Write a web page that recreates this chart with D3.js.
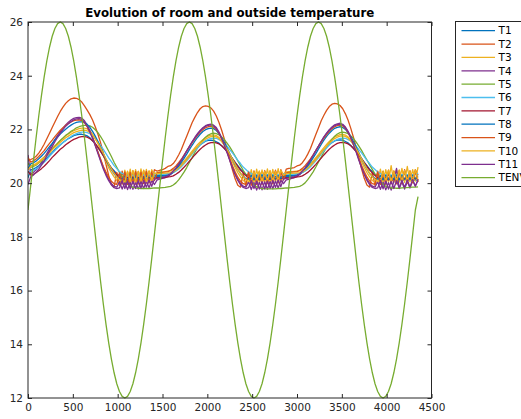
<!DOCTYPE html>
<html>
<head>
<meta charset="utf-8">
<script src="https://cdn.jsdelivr.net/npm/d3@7"></script>
<style>
  body { margin: 0; background: #fff; }
  svg { display: block; font-family: "DejaVu Sans", sans-serif; }
</style>
</head>
<body>
<svg id="chart" width="521" height="419"></svg>
<script>
// Sampling grid: one reading every 30 minutes
const minutes = d3.range(0, 4351, 30);

// Room temperatures (°C)
const T1 = [
  20.20, 20.49, 20.52, 20.58, 20.65, 20.73, 20.82, 20.93, 21.04, 21.14, 21.25, 21.34,
  21.43, 21.51, 21.59, 21.66, 21.71, 21.77, 21.80, 21.82, 21.82, 21.80, 21.76, 21.69,
  21.58, 21.47, 21.32, 21.18, 21.02, 20.86, 20.72, 20.57, 20.46, 20.35, 20.28, 20.24,
  20.22, 20.30, 20.20, 20.31, 20.21, 20.30, 20.22, 20.32, 20.23, 20.30, 20.25, 20.28,
  20.28, 20.28, 20.29, 20.30, 20.31, 20.34, 20.40, 20.47, 20.56, 20.66, 20.77, 20.89,
  21.01, 21.13, 21.24, 21.34, 21.43, 21.50, 21.56, 21.59, 21.60, 21.59, 21.54, 21.49,
  21.39, 21.30, 21.17, 21.05, 20.91, 20.77, 20.65, 20.52, 20.43, 20.33, 20.28, 20.23,
  20.22, 20.30, 20.21, 20.31, 20.20, 20.30, 20.22, 20.31, 20.23, 20.30, 20.24, 20.28,
  20.28, 20.28, 20.29, 20.30, 20.31, 20.34, 20.40, 20.47, 20.56, 20.66, 20.77, 20.89,
  21.01, 21.13, 21.25, 21.35, 21.44, 21.51, 21.57, 21.60, 21.61, 21.60, 21.55, 21.50,
  21.40, 21.30, 21.18, 21.05, 20.91, 20.77, 20.65, 20.52, 20.43, 20.33, 20.28, 20.23,
  20.22, 20.10, 20.20, 20.08, 20.15, 20.10, 20.18, 20.09, 20.14, 20.10, 20.12, 20.10,
  20.12, 20.10
];
const T2 = [
  20.85, 20.88, 20.92, 21.00, 21.12, 21.27, 21.45, 21.65, 21.86, 22.07, 22.28, 22.48,
  22.67, 22.83, 22.97, 23.07, 23.14, 23.17, 23.16, 23.11, 23.02, 22.88, 22.72, 22.55,
  22.35, 22.10, 21.82, 21.50, 21.12, 20.70, 20.28, 19.95, 19.85, 20.40, 19.92, 20.45,
  19.95, 20.42, 19.93, 20.46, 19.96, 20.44, 19.98, 20.47, 20.00, 20.45, 20.05, 20.50,
  20.45, 20.48, 20.50, 20.55, 20.62, 20.65, 20.73, 20.87, 21.05, 21.25, 21.50, 21.75,
  22.00, 22.25, 22.45, 22.63, 22.77, 22.85, 22.88, 22.86, 22.80, 22.68, 22.50, 22.26,
  21.97, 21.64, 21.27, 20.88, 20.50, 20.16, 19.92, 19.85, 20.38, 19.90, 20.44, 19.92,
  20.46, 19.95, 20.43, 19.97, 20.47, 19.98, 20.45, 20.02, 20.48, 20.05, 20.50, 20.20,
  20.52, 20.55, 20.56, 20.58, 20.64, 20.67, 20.76, 20.90, 21.08, 21.29, 21.55, 21.81,
  22.06, 22.32, 22.53, 22.71, 22.85, 22.94, 22.97, 22.95, 22.89, 22.77, 22.58, 22.34,
  22.04, 21.70, 21.32, 20.92, 20.53, 20.18, 19.93, 19.85, 20.40, 19.92, 20.45, 19.95,
  20.43, 19.96, 20.48, 19.98, 20.45, 20.00, 20.47, 20.02, 20.50, 20.05, 20.46, 20.08,
  20.50, 20.30
];
const T3 = [
  20.70, 20.65, 20.68, 20.73, 20.80, 20.89, 20.97, 21.07, 21.18, 21.29, 21.39, 21.49,
  21.59, 21.67, 21.76, 21.83, 21.90, 21.95, 21.99, 22.03, 22.05, 22.05, 22.02, 21.95,
  21.82, 21.66, 21.48, 21.25, 21.03, 20.80, 20.57, 20.39, 20.23, 20.10, 20.03, 20.00,
  20.48, 20.02, 20.52, 20.00, 20.50, 20.03, 20.53, 20.01, 20.51, 20.04, 20.50, 20.30,
  20.40, 20.42, 20.42, 20.43, 20.45, 20.46, 20.50, 20.55, 20.63, 20.72, 20.82, 20.94,
  21.06, 21.19, 21.31, 21.43, 21.53, 21.62, 21.70, 21.75, 21.79, 21.80, 21.77, 21.70,
  21.57, 21.41, 21.22, 21.01, 20.79, 20.58, 20.39, 20.23, 20.10, 20.03, 20.00, 20.50,
  20.02, 20.52, 20.01, 20.49, 20.03, 20.53, 20.02, 20.51, 20.04, 20.54, 20.05, 20.35,
  20.42, 20.43, 20.43, 20.44, 20.45, 20.46, 20.50, 20.55, 20.63, 20.72, 20.83, 20.95,
  21.07, 21.20, 21.32, 21.44, 21.55, 21.64, 21.72, 21.77, 21.81, 21.82, 21.79, 21.72,
  21.59, 21.43, 21.24, 21.02, 20.80, 20.58, 20.39, 20.23, 20.10, 20.03, 20.00, 20.52,
  20.01, 20.50, 20.03, 20.65, 20.02, 20.51, 20.04, 20.55, 20.03, 20.62, 20.05, 20.50,
  20.08, 20.60
];
const T4 = [
  21.05, 20.34, 20.40, 20.50, 20.62, 20.76, 20.92, 21.10, 21.28, 21.45, 21.62, 21.78,
  21.92, 22.05, 22.17, 22.27, 22.35, 22.41, 22.44, 22.45, 22.42, 22.32, 22.16, 21.96,
  21.72, 21.44, 21.15, 20.86, 20.58, 20.34, 20.14, 19.98, 19.88, 19.85, 20.05, 19.78,
  20.03, 19.76, 20.02, 19.77, 20.04, 19.78, 20.06, 19.80, 20.08, 19.83, 20.10, 19.95,
  20.12, 20.15, 20.18, 20.20, 20.24, 20.32, 20.42, 20.54, 20.69, 20.84, 21.01, 21.19,
  21.37, 21.54, 21.70, 21.84, 21.96, 22.06, 22.14, 22.18, 22.20, 22.16, 22.07, 21.90,
  21.69, 21.45, 21.17, 20.88, 20.60, 20.36, 20.15, 19.98, 19.89, 19.85, 20.04, 19.76,
  20.02, 19.74, 20.03, 19.75, 20.05, 19.77, 20.06, 19.79, 20.08, 19.82, 20.10, 19.98,
  20.12, 20.14, 20.18, 20.20, 20.24, 20.32, 20.42, 20.55, 20.69, 20.85, 21.03, 21.21,
  21.38, 21.56, 21.72, 21.86, 21.99, 22.09, 22.17, 22.21, 22.23, 22.19, 22.09, 21.93,
  21.72, 21.47, 21.19, 20.89, 20.61, 20.36, 20.15, 19.99, 19.89, 19.85, 20.05, 19.77,
  20.03, 19.75, 20.02, 19.74, 20.06, 20.55, 19.80, 20.04, 19.78, 20.06, 19.82, 20.08,
  19.90, 20.10
];
const T5 = [
  20.75, 20.59, 20.62, 20.67, 20.75, 20.82, 20.92, 21.03, 21.14, 21.26, 21.37, 21.48,
  21.59, 21.68, 21.78, 21.85, 21.93, 21.99, 22.06, 22.10, 22.13, 22.15, 22.15, 22.13,
  22.08, 21.99, 21.88, 21.73, 21.57, 21.38, 21.19, 20.99, 20.78, 20.59, 20.40, 20.24,
  20.09, 19.98, 19.89, 19.84, 19.82, 19.81, 19.80, 19.80, 19.80, 19.80, 19.81, 19.82,
  19.82, 19.82, 19.83, 19.84, 19.86, 19.88, 19.93, 20.01, 20.12, 20.26, 20.41, 20.58,
  20.77, 20.95, 21.14, 21.31, 21.46, 21.60, 21.71, 21.79, 21.84, 21.86, 21.84, 21.80,
  21.72, 21.62, 21.49, 21.35, 21.18, 21.01, 20.83, 20.65, 20.48, 20.32, 20.17, 20.04,
  19.94, 19.86, 19.82, 19.80, 19.79, 19.79, 19.79, 19.79, 19.79, 19.80, 19.80, 19.81,
  19.82, 19.82, 19.83, 19.84, 19.86, 19.88, 19.93, 20.01, 20.13, 20.27, 20.42, 20.60,
  20.79, 20.97, 21.16, 21.34, 21.49, 21.63, 21.75, 21.83, 21.88, 21.90, 21.88, 21.84,
  21.76, 21.66, 21.53, 21.38, 21.22, 21.04, 20.86, 20.68, 20.51, 20.34, 20.19, 20.06,
  19.96, 19.88, 19.84, 19.82, 19.82, 19.81, 19.81, 19.82, 19.83, 19.83, 19.84, 19.85,
  19.85, 19.86
];
const T6 = [
  20.40, 20.44, 20.47, 20.53, 20.60, 20.69, 20.78, 20.88, 21.00, 21.11, 21.21, 21.32,
  21.42, 21.51, 21.59, 21.67, 21.74, 21.80, 21.84, 21.88, 21.90, 21.90, 21.88, 21.84,
  21.77, 21.66, 21.55, 21.40, 21.26, 21.10, 20.94, 20.80, 20.65, 20.54, 20.43, 20.36,
  20.32, 20.30, 20.34, 20.28, 20.35, 20.29, 20.34, 20.30, 20.35, 20.31, 20.33, 20.34,
  20.34, 20.33, 20.33, 20.34, 20.35, 20.36, 20.40, 20.45, 20.52, 20.61, 20.72, 20.83,
  20.95, 21.08, 21.20, 21.31, 21.42, 21.51, 21.58, 21.63, 21.67, 21.68, 21.67, 21.62,
  21.57, 21.47, 21.38, 21.25, 21.13, 20.99, 20.85, 20.73, 20.60, 20.51, 20.41, 20.36,
  20.31, 20.30, 20.35, 20.28, 20.34, 20.29, 20.35, 20.30, 20.34, 20.31, 20.33, 20.34,
  20.34, 20.33, 20.33, 20.34, 20.35, 20.36, 20.40, 20.45, 20.52, 20.61, 20.72, 20.83,
  20.95, 21.08, 21.20, 21.31, 21.42, 21.51, 21.58, 21.63, 21.67, 21.68, 21.67, 21.62,
  21.57, 21.47, 21.38, 21.25, 21.13, 20.99, 20.85, 20.73, 20.60, 20.51, 20.41, 20.36,
  20.31, 20.30, 20.34, 20.29, 20.35, 20.28, 20.34, 20.30, 20.35, 20.31, 20.34, 20.30,
  20.33, 20.36
];
const T7 = [
  20.45, 20.30, 20.33, 20.39, 20.46, 20.54, 20.63, 20.73, 20.84, 20.96, 21.06, 21.16,
  21.26, 21.34, 21.43, 21.50, 21.57, 21.63, 21.67, 21.71, 21.73, 21.73, 21.71, 21.66,
  21.58, 21.47, 21.34, 21.18, 21.02, 20.86, 20.70, 20.55, 20.41, 20.30, 20.22, 20.17,
  20.15, 20.22, 20.12, 20.23, 20.13, 20.22, 20.14, 20.24, 20.15, 20.23, 20.16, 20.20,
  20.20, 20.20, 20.21, 20.22, 20.23, 20.24, 20.27, 20.33, 20.40, 20.49, 20.59, 20.70,
  20.82, 20.93, 21.05, 21.16, 21.26, 21.35, 21.42, 21.48, 21.51, 21.52, 21.50, 21.46,
  21.39, 21.29, 21.18, 21.05, 20.91, 20.76, 20.62, 20.49, 20.38, 20.28, 20.21, 20.17,
  20.15, 20.22, 20.12, 20.23, 20.13, 20.22, 20.14, 20.24, 20.15, 20.23, 20.16, 20.20,
  20.20, 20.20, 20.21, 20.22, 20.23, 20.24, 20.27, 20.33, 20.40, 20.49, 20.59, 20.70,
  20.82, 20.93, 21.05, 21.16, 21.26, 21.35, 21.42, 21.48, 21.51, 21.52, 21.50, 21.46,
  21.39, 21.29, 21.18, 21.05, 20.91, 20.76, 20.62, 20.49, 20.38, 20.28, 20.21, 20.17,
  20.15, 20.22, 20.12, 20.23, 20.13, 20.22, 20.14, 20.24, 20.15, 20.23, 20.16, 20.20,
  20.16, 20.22
];
const T8 = [
  20.55, 20.72, 20.76, 20.82, 20.91, 21.00, 21.11, 21.23, 21.36, 21.48, 21.61, 21.72,
  21.83, 21.92, 22.01, 22.09, 22.16, 22.22, 22.26, 22.28, 22.28, 22.26, 22.19, 22.08,
  21.93, 21.75, 21.55, 21.33, 21.10, 20.88, 20.68, 20.50, 20.35, 20.24, 20.17, 20.15,
  20.28, 20.12, 20.30, 20.14, 20.29, 20.13, 20.31, 20.15, 20.30, 20.16, 20.28, 20.22,
  20.25, 20.25, 20.26, 20.28, 20.30, 20.34, 20.41, 20.51, 20.63, 20.77, 20.92, 21.08,
  21.25, 21.41, 21.56, 21.70, 21.82, 21.92, 21.99, 22.03, 22.05, 22.03, 21.96, 21.84,
  21.69, 21.52, 21.31, 21.10, 20.89, 20.68, 20.51, 20.36, 20.25, 20.17, 20.15, 20.30,
  20.12, 20.29, 20.13, 20.31, 20.14, 20.30, 20.15, 20.29, 20.16, 20.28, 20.18, 20.24,
  20.25, 20.25, 20.26, 20.28, 20.30, 20.34, 20.42, 20.52, 20.64, 20.78, 20.94, 21.10,
  21.27, 21.44, 21.60, 21.74, 21.86, 21.96, 22.04, 22.08, 22.10, 22.07, 22.00, 21.88,
  21.73, 21.55, 21.34, 21.13, 20.91, 20.70, 20.52, 20.36, 20.25, 20.18, 20.15, 20.29,
  20.12, 20.30, 20.13, 20.28, 20.14, 20.31, 20.12, 20.30, 20.15, 20.29, 20.14, 20.30,
  20.16, 20.28
];
const T9 = [
  20.95, 20.78, 20.83, 20.90, 20.99, 21.10, 21.21, 21.35, 21.48, 21.60, 21.73, 21.85,
  21.97, 22.06, 22.15, 22.22, 22.28, 22.33, 22.35, 22.36, 22.33, 22.25, 22.10, 21.91,
  21.69, 21.42, 21.16, 20.89, 20.62, 20.41, 20.22, 20.07, 19.98, 19.95, 20.38, 19.96,
  20.42, 19.95, 20.40, 19.97, 20.43, 19.96, 20.41, 19.98, 20.44, 20.00, 20.42, 20.10,
  20.38, 20.40, 20.40, 20.42, 20.43, 20.48, 20.55, 20.64, 20.76, 20.89, 21.04, 21.19,
  21.35, 21.50, 21.65, 21.78, 21.90, 21.99, 22.06, 22.10, 22.12, 22.09, 22.00, 21.85,
  21.65, 21.42, 21.17, 20.90, 20.65, 20.42, 20.22, 20.07, 19.98, 19.95, 20.40, 19.96,
  20.43, 19.97, 20.41, 19.95, 20.44, 19.98, 20.42, 19.97, 20.45, 20.00, 20.43, 20.12,
  20.38, 20.40, 20.41, 20.42, 20.43, 20.48, 20.55, 20.65, 20.77, 20.90, 21.05, 21.21,
  21.37, 21.53, 21.68, 21.81, 21.93, 22.03, 22.10, 22.14, 22.16, 22.13, 22.04, 21.89,
  21.68, 21.45, 21.19, 20.92, 20.66, 20.43, 20.23, 20.08, 19.98, 19.95, 20.42, 19.97,
  20.44, 19.96, 20.40, 19.98, 20.45, 19.97, 20.43, 19.99, 20.46, 20.00, 20.44, 20.02,
  20.45, 20.05
];
const T10 = [
  20.50, 20.62, 20.65, 20.70, 20.77, 20.85, 20.93, 21.03, 21.13, 21.24, 21.34, 21.43,
  21.52, 21.61, 21.69, 21.75, 21.82, 21.88, 21.92, 21.95, 21.97, 21.97, 21.95, 21.89,
  21.79, 21.65, 21.49, 21.31, 21.11, 20.91, 20.71, 20.53, 20.37, 20.23, 20.13, 20.07,
  20.05, 20.45, 20.06, 20.47, 20.05, 20.44, 20.08, 20.48, 20.06, 20.46, 20.10, 20.38,
  20.35, 20.36, 20.36, 20.37, 20.38, 20.39, 20.43, 20.48, 20.56, 20.65, 20.76, 20.87,
  21.00, 21.12, 21.25, 21.36, 21.47, 21.56, 21.64, 21.69, 21.73, 21.74, 21.72, 21.66,
  21.55, 21.42, 21.27, 21.08, 20.90, 20.71, 20.52, 20.37, 20.24, 20.13, 20.07, 20.05,
  20.44, 20.06, 20.46, 20.05, 20.45, 20.07, 20.47, 20.06, 20.45, 20.08, 20.48, 20.30,
  20.35, 20.36, 20.36, 20.37, 20.38, 20.39, 20.43, 20.48, 20.56, 20.65, 20.76, 20.88,
  21.00, 21.13, 21.26, 21.38, 21.49, 21.58, 21.66, 21.71, 21.75, 21.76, 21.74, 21.68,
  21.57, 21.44, 21.28, 21.10, 20.91, 20.72, 20.53, 20.37, 20.24, 20.14, 20.07, 20.05,
  20.46, 20.06, 20.48, 20.05, 20.45, 20.07, 20.49, 20.06, 20.47, 20.08, 20.46, 20.07,
  20.50, 20.10
];
const T11 = [
  19.95, 20.24, 20.30, 20.40, 20.52, 20.67, 20.82, 21.02, 21.19, 21.36, 21.54, 21.71,
  21.86, 21.99, 22.12, 22.21, 22.29, 22.36, 22.39, 22.40, 22.37, 22.27, 22.11, 21.90,
  21.67, 21.39, 21.10, 20.81, 20.53, 20.29, 20.09, 19.93, 19.83, 19.80, 19.82, 20.10,
  19.80, 20.08, 19.79, 20.07, 19.80, 20.09, 19.82, 20.10, 19.85, 20.12, 19.88, 20.15,
  20.18, 20.20, 20.22, 20.24, 20.28, 20.35, 20.45, 20.57, 20.71, 20.86, 21.03, 21.20,
  21.36, 21.53, 21.68, 21.82, 21.94, 22.04, 22.11, 22.15, 22.17, 22.13, 22.03, 21.87,
  21.66, 21.41, 21.13, 20.84, 20.56, 20.31, 20.10, 19.94, 19.84, 19.80, 19.83, 20.10,
  19.80, 20.08, 19.78, 20.06, 19.79, 20.08, 19.81, 20.10, 19.84, 20.12, 19.87, 20.16,
  20.18, 20.20, 20.22, 20.24, 20.28, 20.35, 20.45, 20.57, 20.72, 20.87, 21.04, 21.21,
  21.38, 21.55, 21.71, 21.85, 21.97, 22.07, 22.14, 22.18, 22.20, 22.16, 22.06, 21.90,
  21.68, 21.43, 21.15, 20.85, 20.57, 20.32, 20.10, 19.94, 19.84, 19.80, 19.82, 20.10,
  19.79, 20.08, 19.78, 20.07, 19.80, 20.09, 19.82, 20.11, 19.84, 20.12, 19.86, 20.14,
  19.88, 20.15
];
// Outside temperature (°C)
const TENV = [
  19.00, 19.91, 20.81, 21.68, 22.50, 23.26, 23.95, 24.55, 25.06, 25.47, 25.76, 25.94,
  26.00, 25.94, 25.76, 25.47, 25.06, 24.55, 23.95, 23.26, 22.50, 21.68, 20.81, 19.91,
  19.00, 18.09, 17.19, 16.32, 15.50, 14.74, 14.05, 13.45, 12.94, 12.53, 12.24, 12.06,
  12.00, 12.06, 12.24, 12.53, 12.94, 13.45, 14.05, 14.74, 15.50, 16.32, 17.19, 18.09,
  19.00, 19.91, 20.81, 21.68, 22.50, 23.26, 23.95, 24.55, 25.06, 25.47, 25.76, 25.94,
  26.00, 25.94, 25.76, 25.47, 25.06, 24.55, 23.95, 23.26, 22.50, 21.68, 20.81, 19.91,
  19.00, 18.09, 17.19, 16.32, 15.50, 14.74, 14.05, 13.45, 12.94, 12.53, 12.24, 12.06,
  12.00, 12.06, 12.24, 12.53, 12.94, 13.45, 14.05, 14.74, 15.50, 16.32, 17.19, 18.09,
  19.00, 19.91, 20.81, 21.68, 22.50, 23.26, 23.95, 24.55, 25.06, 25.47, 25.76, 25.94,
  26.00, 25.94, 25.76, 25.47, 25.06, 24.55, 23.95, 23.26, 22.50, 21.68, 20.81, 19.91,
  19.00, 18.09, 17.19, 16.32, 15.50, 14.74, 14.05, 13.45, 12.94, 12.53, 12.24, 12.06,
  12.00, 12.06, 12.24, 12.53, 12.94, 13.45, 14.05, 14.74, 15.50, 16.32, 17.19, 18.09,
  19.00, 19.50
];

const seriesNames = ["T1", "T2", "T3", "T4", "T5", "T6", "T7", "T8", "T9", "T10", "T11", "TENV"];
const seriesValues = [T1, T2, T3, T4, T5, T6, T7, T8, T9, T10, T11, TENV];
const xTicks = [0, 500, 1000, 1500, 2000, 2500, 3000, 3500, 4000, 4500];
const yTicks = [12, 14, 16, 18, 20, 22, 24, 26];
const titleText = "Evolution of room and outside temperature";

// Default line colour order, cycling after seven entries
const palette = ["#0072BD", "#D95319", "#EDB120", "#7E2F8E", "#77AC30", "#4DBEEE", "#A2142F"];
const colorOf = i => palette[i % palette.length];

const svg = d3.select("#chart");
const plot = { left: 28, right: 431.5, top: 22, bottom: 398 };
const axisColor = "#262626";

const x = d3.scaleLinear().domain([0, 4500]).range([plot.left, plot.right]);
const y = d3.scaleLinear().domain([12, 26]).range([plot.bottom, plot.top]);

svg.append("rect").attr("width", 521).attr("height", 419).attr("fill", "#fff");

// Clip the traces to the axes box
svg.append("clipPath").attr("id", "plotClip")
  .append("rect")
  .attr("x", plot.left).attr("y", plot.top - 1)
  .attr("width", plot.right - plot.left).attr("height", plot.bottom - plot.top + 2);

const line = d3.line()
  .defined(d => d[1] != null && !isNaN(d[1]))
  .x(d => x(d[0]))
  .y(d => y(d[1]));

const traces = svg.append("g").attr("clip-path", "url(#plotClip)");
seriesValues.forEach((vals, i) => {
  traces.append("path")
    .datum(minutes.map((t, j) => [t, vals[j]]))
    .attr("fill", "none")
    .attr("stroke", colorOf(i))
    .attr("stroke-width", 1.3)
    .attr("stroke-linejoin", "round")
    .attr("d", line);
});

// Axes with inward ticks on all four sides
const tickLen = 4;
const plain = d3.format("d");
const styleAxis = g => {
  g.select(".domain").remove();
  g.selectAll(".tick line").attr("stroke", axisColor);
  g.selectAll(".tick text").attr("fill", axisColor).style("font-size", "10.5px")
    .style("font-family", "'DejaVu Sans', sans-serif");
};

svg.append("g")
  .attr("transform", `translate(0,${plot.bottom})`)
  .call(d3.axisBottom(x).tickValues(xTicks).tickFormat(plain)
    .tickSizeInner(-tickLen).tickSizeOuter(0).tickPadding(6))
  .call(styleAxis);
svg.append("g")
  .attr("transform", `translate(0,${plot.top})`)
  .call(d3.axisTop(x).tickValues(xTicks).tickSizeInner(-tickLen).tickSizeOuter(0).tickFormat(""))
  .call(styleAxis);
svg.append("g")
  .attr("transform", `translate(${plot.left},0)`)
  .call(d3.axisLeft(y).tickValues(yTicks).tickFormat(plain)
    .tickSizeInner(-tickLen).tickSizeOuter(0).tickPadding(5))
  .call(styleAxis);
svg.append("g")
  .attr("transform", `translate(${plot.right},0)`)
  .call(d3.axisRight(y).tickValues(yTicks).tickSizeInner(-tickLen).tickSizeOuter(0).tickFormat(""))
  .call(styleAxis);

svg.append("rect")
  .attr("x", plot.left).attr("y", plot.top)
  .attr("width", plot.right - plot.left).attr("height", plot.bottom - plot.top)
  .attr("fill", "none").attr("stroke", axisColor).attr("stroke-width", 1);

// Title
svg.append("text")
  .attr("x", (plot.left + plot.right) / 2)
  .attr("y", 17)
  .attr("text-anchor", "middle")
  .style("font-size", "11.8px")
  .style("font-weight", "bold")
  .attr("fill", "#000")
  .text(titleText);

// Legend (its right part runs past the edge of the figure)
const legend = svg.append("g").attr("transform", "translate(455.5,21.5)");
legend.append("rect")
  .attr("width", 110).attr("height", 165)
  .attr("fill", "#fff").attr("stroke", axisColor).attr("stroke-width", 1);
const rowStep = 13.36;
seriesNames.forEach((name, i) => {
  const cy = 9.2 + i * rowStep;
  legend.append("line")
    .attr("x1", 6).attr("x2", 39.5)
    .attr("y1", cy).attr("y2", cy)
    .attr("stroke", colorOf(i)).attr("stroke-width", 1.3);
  legend.append("text")
    .attr("x", 43).attr("y", cy)
    .attr("dy", "0.36em")
    .style("font-size", "10.5px")
    .attr("fill", "#000")
    .text(name);
});
</script>
</body>
</html>
